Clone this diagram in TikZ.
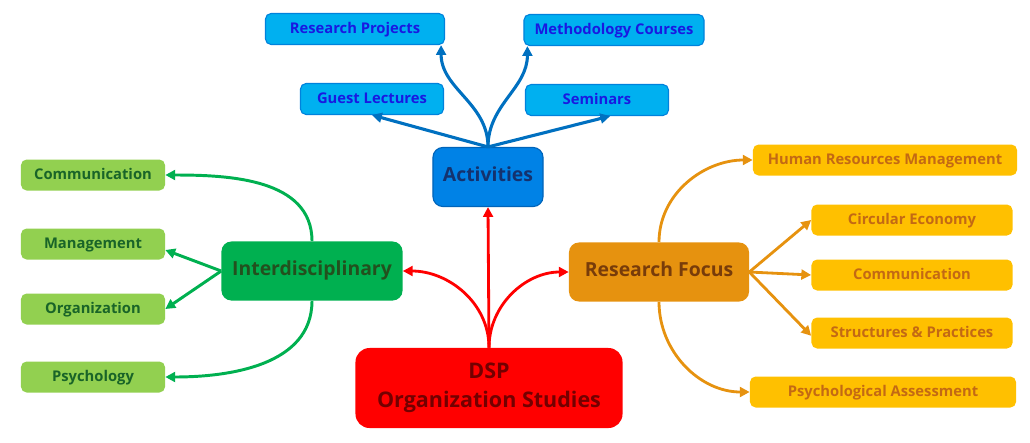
\documentclass[tikz,border=0pt]{standalone}
\usepackage{fontspec}
\setmainfont{Open Sans}
\usetikzlibrary{arrows.meta, positioning}
\definecolor{skyfill}{RGB}{0, 176, 240}
\definecolor{skyline}{RGB}{0, 130, 220}
\definecolor{skytext}{RGB}{25, 25, 225}
\definecolor{actfill}{RGB}{0, 130, 230}
\definecolor{actline}{RGB}{0, 100, 185}
\definecolor{acttext}{RGB}{20, 50, 110}
\definecolor{bluearrow}{RGB}{0, 112, 192}
\definecolor{greenfill}{RGB}{0, 176, 80}
\definecolor{greentext}{RGB}{35, 80, 30}
\definecolor{limefill}{RGB}{146, 208, 80}
\definecolor{limetext}{RGB}{25, 100, 40}
\definecolor{orangefill}{RGB}{230, 146, 15}
\definecolor{orangetext}{RGB}{120, 60, 10}
\definecolor{amberfill}{RGB}{255, 192, 0}
\definecolor{ambertext}{RGB}{195, 105, 20}
\definecolor{redtext}{RGB}{115, 0, 0}

\begin{document}
\begin{tikzpicture}[
    x=0.025cm, y=-0.025cm,
    >={Triangle[length=7pt,width=7pt]},
    leaf/.style={rectangle, rounded corners=4pt, inner sep=0pt, minimum height=0.775cm, text height=0.74em, text depth=0.04em, font=\bfseries\fontsize{10.5}{12}\selectfont, align=center},
    hub/.style={rectangle, rounded corners=7pt, inner sep=0pt, minimum height=1.475cm, text height=0.74em, text depth=0.04em, font=\bfseries\fontsize{13.8}{16}\selectfont, align=center},
    activity/.style={leaf, fill=skyfill, draw=skyline, line width=0.8pt, text=skytext},
    topic/.style={leaf, fill=limefill, text=limetext, minimum width=3.6cm},
    focus/.style={leaf, fill=amberfill, text=ambertext},
    bluelink/.style={->, bluearrow, line width=2.2pt},
    greenlink/.style={->, greenfill, line width=2.1pt},
    orangelink/.style={->, orangefill, line width=2pt},
    redlink/.style={->, red, line width=2pt}
]
\useasboundingbox (0,0) rectangle (1030,442);

% centre
\node [rectangle, inner sep=0pt, align=center, fill=red, text=redtext, minimum width=6.675cm, minimum height=2cm, rounded corners=10pt, font=\bfseries\fontsize{15.3}{21}\selectfont] (dsp) at (489,388) {DSP\\Organization Studies};

% hubs
\node [hub, fill=actfill, draw=actline, line width=0.8pt, text=acttext, minimum width=2.75cm] (act) at (488,177) {Activities};
\node [hub, fill=greenfill, text=greentext, minimum width=4.525cm] (inter) at (312,271) {Interdisciplinary};
\node [hub, fill=orangefill, text=orangetext, minimum width=4.5cm] (rf) at (659,272) {Research Focus};

% activities
\node [activity, minimum width=4.475cm] (proj) at (355,29) {Research Projects};
\node [activity, minimum width=4.5cm] (meth) at (614,30) {Methodology Courses};
\node [activity, minimum width=3.575cm] (guest) at (372,99) {Guest Lectures};
\node [activity, minimum width=3.575cm] (sem) at (597,100) {Seminars};

% disciplines
\node [topic] (comm) at (93,175) {Communication};
\node [topic] (mgmt) at (93,244) {Management};
\node [topic] (org) at (93,309) {Organization};
\node [topic] (psy) at (93,377) {Psychology};

% research focus
\node [focus, minimum width=6.6cm] (hrm) at (885,160) {Human Resources Management};
\node [focus, minimum width=5.025cm] (circ) at (912,220) {Circular Economy};
\node [focus, minimum width=5.025cm] (rcomm) at (912,275) {Communication};
\node [focus, minimum width=5.025cm] (struct) at (912,333) {Structures \& Practices};
\node [focus, minimum width=6.65cm] (assess) at (883,392) {Psychological Assessment};

% links
\draw [redlink] (dsp.north) -- (act.south);
\draw [redlink] (dsp.north) to[out=90,in=0] (inter.east);
\draw [redlink] (dsp.north) to[out=90,in=180] (rf.west);

\draw [bluelink] (act.north) -- (guest.south);
\draw [bluelink] (act.north) -- ([xshift=0.33cm]sem.south);
\draw [bluelink] (act.north) to[out=90,in=-90] ([xshift=-0.1cm]proj.south east);
\draw [bluelink] (act.north) to[out=90,in=-90] ([xshift=0.1cm]meth.south west);

\draw [greenlink] (inter.north) to[out=90,in=0] (comm.east);
\draw [greenlink] (inter.west) -- ([yshift=-0.15cm]mgmt.east);
\draw [greenlink] (inter.west) -- (org.east);
\draw [greenlink] (inter.south) to[out=-90,in=0] (psy.east);

\draw [orangelink] (rf.north) to[out=90,in=180] (hrm.west);
\draw [orangelink] (rf.east) -- (circ.west);
\draw [orangelink] (rf.east) -- (rcomm.west);
\draw [orangelink] (rf.east) -- ([yshift=-0.07cm]struct.west);
\draw [orangelink] (rf.south) to[out=-90,in=180] (assess.west);
\end{tikzpicture}
\end{document}
